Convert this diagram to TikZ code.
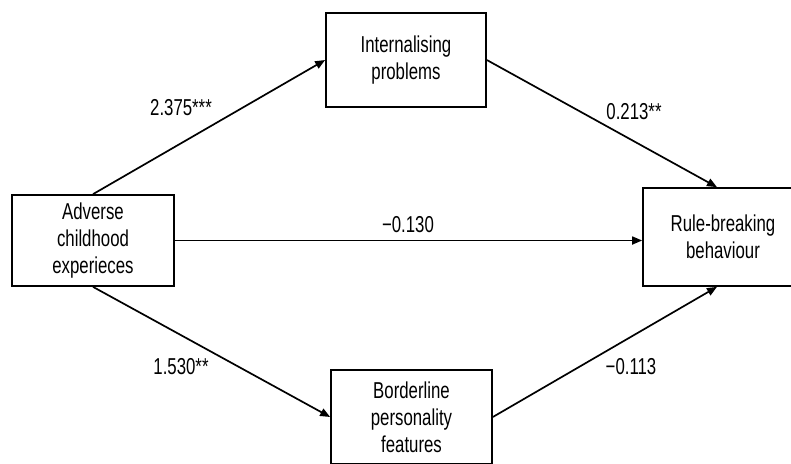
\documentclass[tikz,border=0pt]{standalone}
\usepackage{fontspec}
\setmainfont[FakeStretch=0.73]{Liberation Sans}
\usetikzlibrary{arrows.meta}
\begin{document}
\begin{tikzpicture}[x=1pt,y=-1pt,
  box/.style={draw, line width=1.7pt, align=center, inner sep=0pt,
    font=\fontsize{23}{27}\selectfont},
  lbl/.style={inner sep=0pt, font=\fontsize{23}{27}\selectfont},
  conn/.style={line width=1.7pt, -{Triangle[length=10pt,width=8pt]}}]
\useasboundingbox (0,0) rectangle (791,463);
\clip (0,0) rectangle (791,463);
\node[box, minimum width=162pt, minimum height=91pt] (A) at (93,240.5) {Adverse\\childhood\\experieces};
\node[box, minimum width=160pt, minimum height=94pt] (I) at (406,60) {Internalising\\problems};
\node[box, minimum width=161pt, minimum height=94pt] (B) at (411.5,417) {Borderline\\personality\\features};
\node[box, minimum width=160pt, minimum height=98pt] (R) at (723,237) {Rule-breaking\\behaviour};
\coordinate (Rn) at ([xshift=-6pt]R.north);
\coordinate (Rs) at ([xshift=-6pt]R.south);
\draw[conn] (A.north) -- (I.west);
\draw[conn] (I.east) -- (Rn);
\draw[conn] (A.east) -- (A.east -| R.west);
\draw[conn] (A.south) -- (B.west);
\draw[conn] (B.east) -- (Rs);
\node[lbl] (l1) at (181,108) {2.375***};
\node[lbl] (l2) at (634,112) {0.213**};
\node[lbl] (l3) at (408,225) {−0.130};
\node[lbl] (l4) at (181,367) {1.530**};
\node[lbl] (l5) at (631,367) {−0.113};
\end{tikzpicture}
\end{document}
